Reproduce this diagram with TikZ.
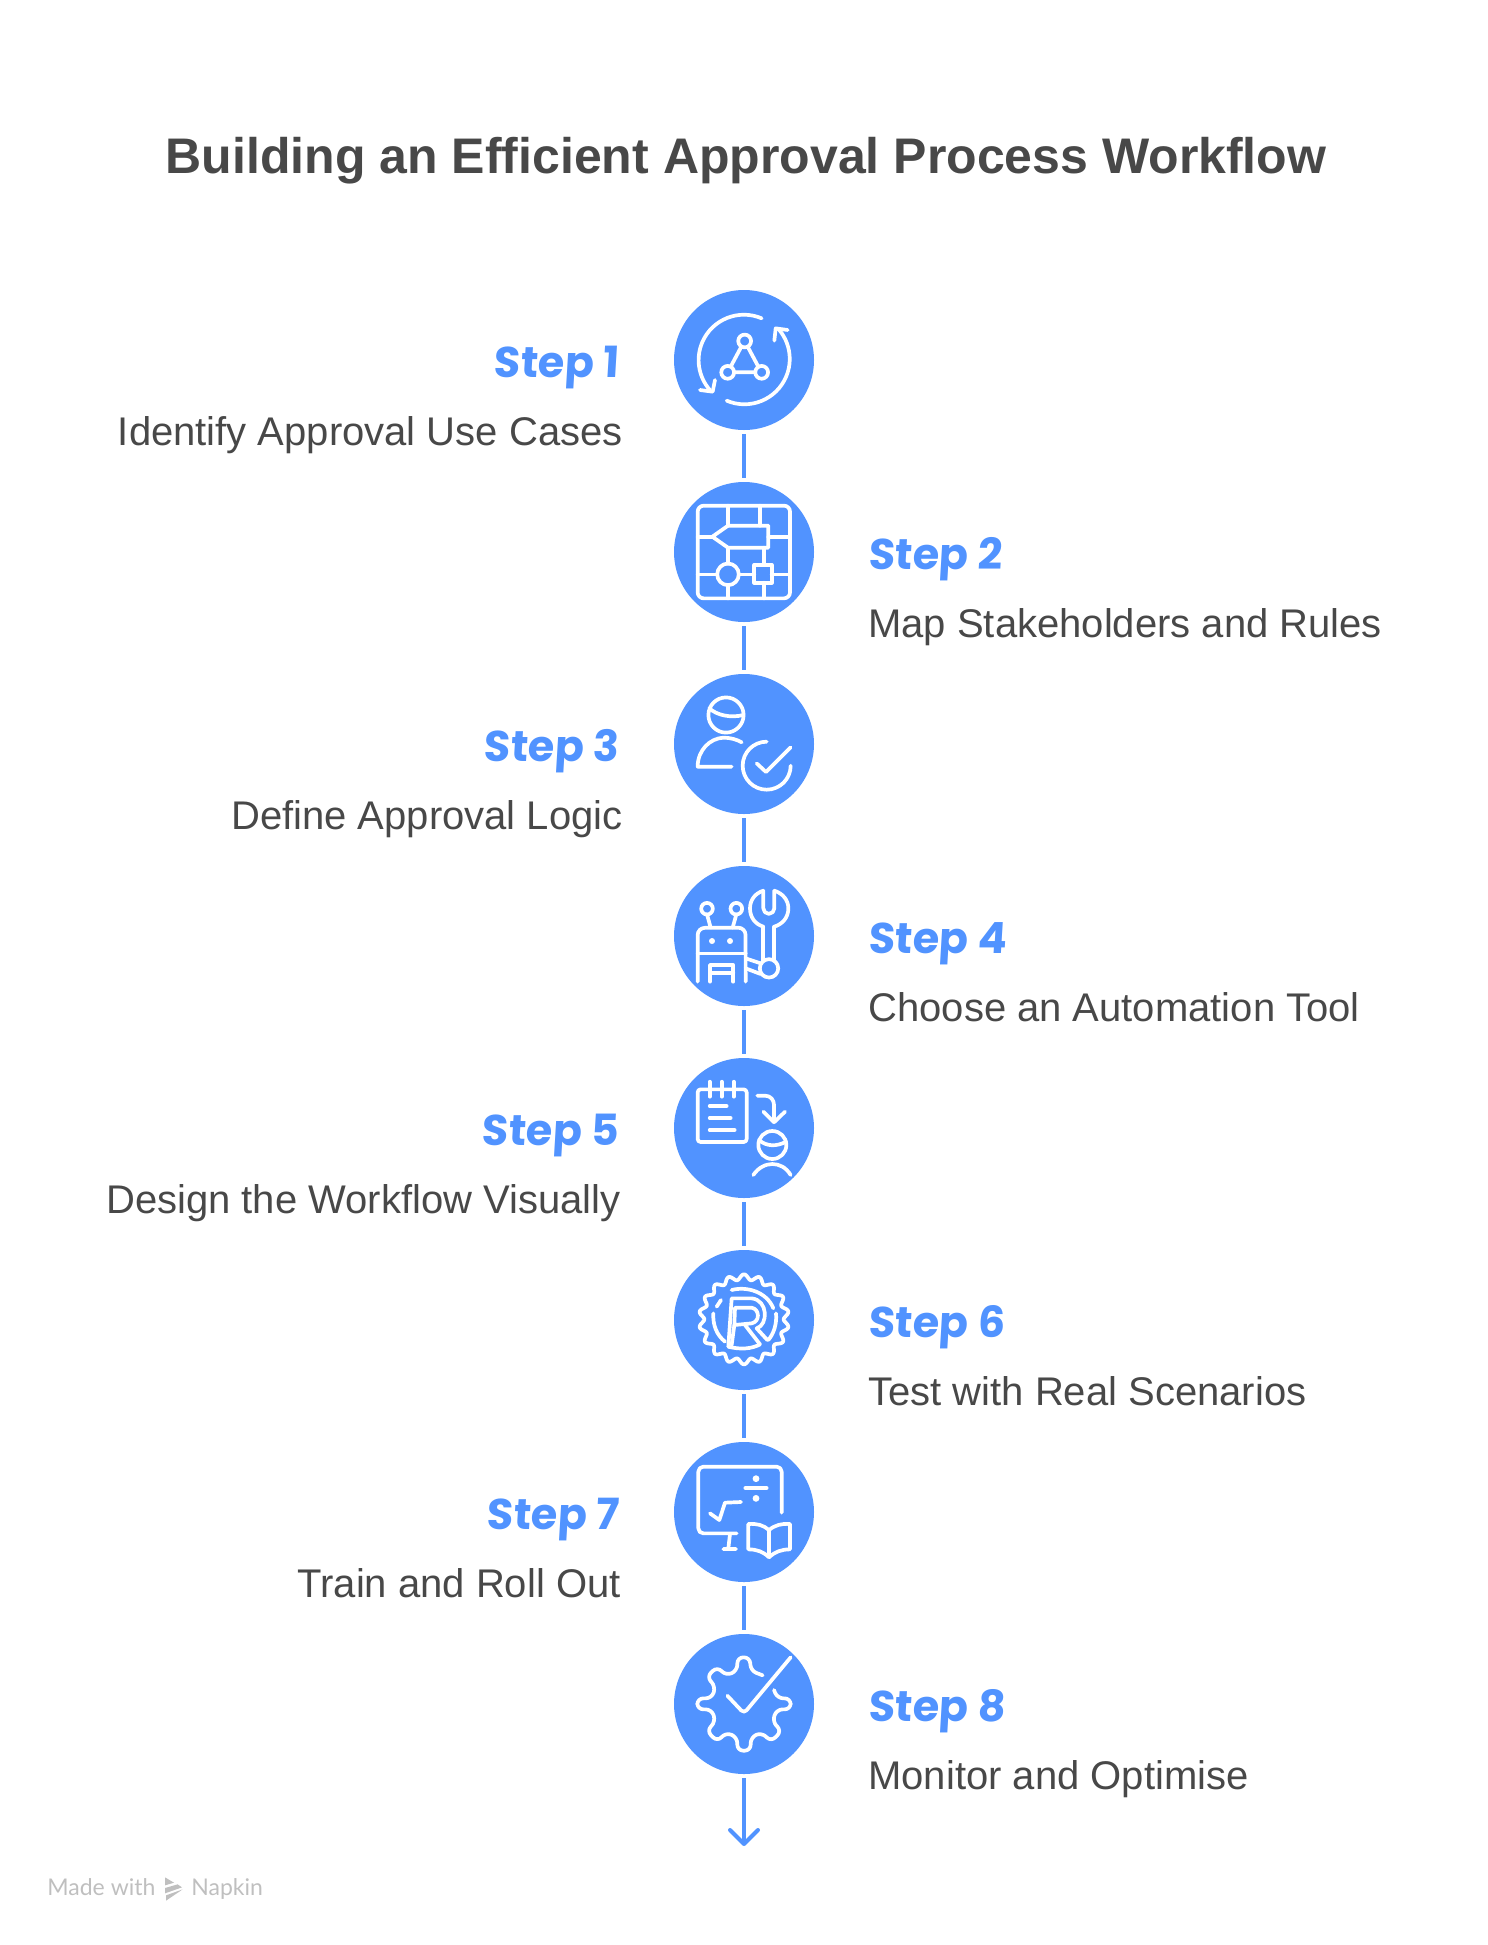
\documentclass[tikz,border=0pt]{standalone}
\usepackage{fontspec}
\setmainfont{Liberation Sans}
\newfontfamily\stepfont[FakeSlant=0.06]{Poppins Bold}
\newfontfamily\credfont{Lato}
\usetikzlibrary{arrows.meta}
\definecolor{nblue}{HTML}{5193FF}
\definecolor{ntext}{HTML}{484848}
\definecolor{ncred}{HTML}{BFBFBF}
\tikzset{
  x=0.5pt,y=-0.5pt,
  disc/.style={circle,fill=nblue,draw=none,minimum size=70pt,inner sep=0pt},
  conn/.style={draw=nblue,line width=2pt,shorten >=2pt,shorten <=2pt},
  stepl/.style={inner sep=0pt,text=nblue,font=\stepfont\fontsize{21.5}{25}\selectfont},
  bodyl/.style={inner sep=0pt,text=ntext,font=\fontsize{20}{24}\selectfont},
  credl/.style={inner sep=0pt,text=ncred,font=\credfont\fontsize{11.5}{14}\selectfont},
  ico/.style={shift={(#1)},x=0.16667pt,y=-0.16667pt,draw=white,line width=1.85pt,line cap=round,line join=round},
}
\begin{document}
\begin{tikzpicture}
\useasboundingbox (0,0) rectangle (1488,1945);
\node[inner sep=0pt,anchor=base,text=ntext,font=\bfseries\fontsize{25}{30}\selectfont] (title) at (746,173) {Building an Efficient Approval Process Workflow};
\foreach \n/\y in {1/360,2/552,3/744,4/936,5/1128,6/1320,7/1512,8/1704}
  \node[disc] (c\n) at (744,\y) {};
\coordinate (tipend) at (744,1846);
\draw[conn] (c1)--(c2);
\draw[conn] (c2)--(c3);
\draw[conn] (c3)--(c4);
\draw[conn] (c4)--(c5);
\draw[conn] (c5)--(c6);
\draw[conn] (c6)--(c7);
\draw[conn] (c7)--(c8);
\draw[draw=nblue,line width=2pt,shorten <=2pt,-{Straight Barb[round,length=7pt,width=14pt]}] (c8)--(tipend);
% labels
\node[stepl,anchor=base east] (s1) at (619,377) {Step 1};
\node[bodyl,anchor=base east] (t1) at (623,445) {Identify Approval Use Cases};
\node[stepl,anchor=base west] (s2) at (868,569) {Step 2};
\node[bodyl,anchor=base west] (t2) at (868,637) {Map Stakeholders and Rules};
\node[stepl,anchor=base east] (s3) at (619,761) {Step 3};
\node[bodyl,anchor=base east] (t3) at (623,829) {Define Approval Logic};
\node[stepl,anchor=base west] (s4) at (868,953) {Step 4};
\node[bodyl,anchor=base west] (t4) at (868,1021) {Choose an Automation Tool};
\node[stepl,anchor=base east] (s5) at (619,1145) {Step 5};
\node[bodyl,anchor=base east] (t5) at (621,1213) {Design the Workflow Visually};
\node[stepl,anchor=base west] (s6) at (868,1337) {Step 6};
\node[bodyl,anchor=base west] (t6) at (868,1405) {Test with Real Scenarios};
\node[stepl,anchor=base east] (s7) at (619,1529) {Step 7};
\node[bodyl,anchor=base east] (t7) at (621,1597) {Train and Roll Out};
\node[stepl,anchor=base west] (s8) at (868,1721) {Step 8};
\node[bodyl,anchor=base west] (t8) at (868,1789) {Monitor and Optimise};
% icon 1
\begin{scope}[ico={660,280}]
\draw (305,115) arc[start angle=67,end angle=221,radius=22.67pt];
\draw (120,330)--(158,335)--(165,300);
\draw (200,362) arc[start angle=247,end angle=402,radius=22.67pt];
\draw (383,150)--(347,145)--(343,182);
\draw (254,183) circle[radius=3.2pt];
\draw (203,277) circle[radius=3.2pt];
\draw (305,277) circle[radius=3.2pt];
\draw (244,200)--(212,260) (263,200)--(295,260) (222,277)--(286,277);
\end{scope}
% icon 2
\begin{scope}[ico={660,280}]
\draw[rounded corners=3pt] (113,677) rectangle (390,955);
\draw (204,677)--(204,737) (300,677)--(300,737) (113,770)--(157,770) (325,770)--(390,770);
\draw (157,770)--(204,737)--(325,737)--(325,803)--(204,803)--cycle;
\draw (204,803)--(204,851) (312,803)--(312,855);
\draw (204,883) circle[radius=5.4pt];
\draw (283,855) rectangle (335,908);
\draw (113,883)--(172,883) (236,883)--(283,883) (335,883)--(390,883) (204,915)--(204,955) (312,908)--(312,955);
\end{scope}
% icon 3
\begin{scope}[ico={660,660}]
\draw (198,165) circle[radius=8.8pt];
\draw (148,145) .. controls (170,165) and (210,175) .. (250,165);
\draw (215,320)--(113,320) .. controls (113,270) and (150,235) .. (190,233) .. controls (210,233) and (230,238) .. (245,247);
\draw (320,245) arc[start angle=90,end angle=360,radius=12pt];
\draw (290,310)--(318,336)--(392,262);
\end{scope}
% icon 4
\begin{scope}[ico={660,660}]
\draw (141,746) circle[radius=2.9pt] (229,746) circle[radius=2.9pt];
\draw (141,763)--(152,803) (229,763)--(218,803);
\draw (113,965)--(113,825) arc[start angle=180,end angle=90,radius=3.6pt]--(235,803) arc[start angle=90,end angle=0,radius=3.6pt]--(257,965);
\draw (113,880)--(257,880);
\fill[white] (156,843) circle[radius=1.5pt] (210,843) circle[radius=1.5pt];
\draw (150,965)--(150,915)--(220,915)--(220,965) (150,938)--(220,938);
\draw (257,895)--(302,910) (257,925)--(302,942);
\draw (327,925) circle[radius=4.6pt];
\draw (310,800)--(310,902) (343,800)--(343,902);
\draw (310,692)--(310,745) arc[start angle=180,end angle=360,radius=2.75pt]--(343,692);
\draw (343,692) .. controls (368,700) and (385,720) .. (385,745) .. controls (385,772) and (368,792) .. (343,800);
\draw (310,692) .. controls (285,700) and (270,720) .. (270,745) .. controls (270,772) and (285,792) .. (310,800);
\end{scope}
% icon 5
\begin{scope}[ico={660,1050}]
\draw[rounded corners=1.5pt] (113,118) rectangle (260,276);
\draw (149,95)--(149,140) (185,95)--(185,140) (221,95)--(221,140);
\draw (149,168)--(200,168) (149,204)--(212,204) (149,240)--(224,240);
\draw (292,137)--(315,137) .. controls (332,137) and (342,150) .. (342,165)--(342,217);
\draw (310,185)--(342,217)--(375,185);
\draw (337,285) circle[radius=7pt];
\draw (297,270) .. controls (320,290) and (350,290) .. (378,275);
\draw (280,375) .. controls (295,352) and (318,342) .. (337,342) .. controls (358,342) and (378,352) .. (392,375);
\end{scope}
% icon 6
\begin{scope}[ico={660,1050}]
\draw plot[domain=0:360,samples=360] ({252+(127-8*cos(18*\x))*cos(\x)},{808+(127-8*cos(18*\x))*sin(\x)}) -- cycle;
\draw (215,720) .. controls (260,708) and (320,725) .. (340,775);
\draw (170,770)--(183,750);
\draw (160,790) .. controls (158,825) and (170,855) .. (195,875);
\draw (348,790) .. controls (351,820) and (342,850) .. (325,870);
\draw (205,890) .. controls (240,899) and (275,897) .. (300,883);
\draw (205,890)--(215,745)--(275,745) .. controls (325,750) and (325,825) .. (290,835)--(322,870);
\draw (225,773)--(275,773) .. controls (300,778) and (300,815) .. (275,820)--(223,825)--cycle;
\draw (223,825)--(215,885) (255,825)--(300,883);
\end{scope}
% icon 7
\begin{scope}[ico={660,1430}]
\draw[rounded corners=2.5pt] (365,248)--(365,110)--(115,110)--(115,310)--(230,310);
\draw (210,312)--(205,355) (190,357)--(228,357);
\draw (256,174)--(320,174);
\fill[white] (288,146) circle[radius=1.7pt] (288,205) circle[radius=1.7pt];
\draw (150,250)--(178,270)--(195,218)--(243,216);
\draw (327,300) .. controls (310,285) and (290,280) .. (265,282)--(265,358) .. controls (290,358) and (310,365) .. (327,382) .. controls (345,365) and (365,358) .. (390,358)--(390,282) .. controls (365,280) and (345,285) .. (327,300)--(327,382);
\end{scope}
% icon 8
\begin{scope}[ico={660,1430}]
\draw[rounded corners=3pt] (308,736)--(272,722)--(270,682)--(232,682)--(232,722)--(198,737)--(172,710)--(140,740)--(167,770)--(155,805)--(112,805)--(112,838)--(155,838)--(167,875)--(140,902)--(172,935)--(198,907)--(232,922)--(232,962)--(272,962)--(272,922)--(305,907)--(333,935)--(365,903)--(337,875)--(350,838)--(392,838)--(392,805)--(352,805)--(342,780);
\draw[rounded corners=2pt] (202,797)--(252,850)--(392,682);
\end{scope}
% credit
\node[credl,anchor=base west] (made) at (47,1895) {Made with};
\node[credl,anchor=base west] (nap) at (191,1895) {Napkin};
\begin{scope}[shift={(30,1860)},x=0.16667pt,y=-0.16667pt]
\fill[ncred] (405,52)--(432,68)--(405,76)--cycle;
\fill[ncred] (405,84)--(443,73)--(456,82)--(405,100)--cycle;
\fill[ncred] (408,106)--(458,88)--(408,122)--cycle;
\end{scope}
\end{tikzpicture}
\end{document}
